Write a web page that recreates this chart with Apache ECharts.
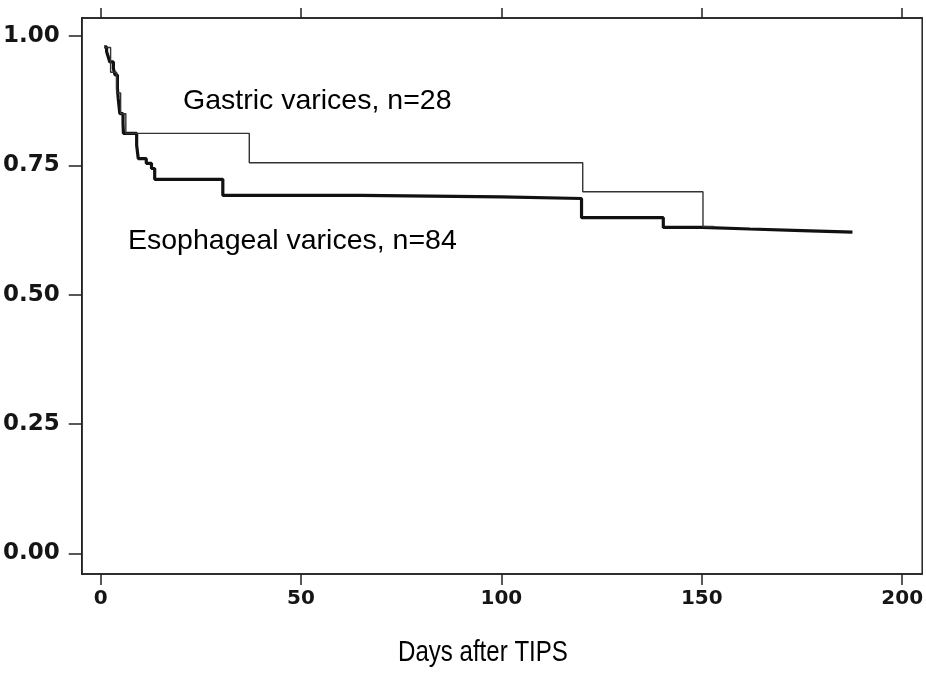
<!DOCTYPE html>
<html>
<head>
<meta charset="utf-8">
<script src="https://cdn.jsdelivr.net/npm/echarts@6/dist/echarts.min.js"></script>
<style>
  html, body { margin: 0; padding: 0; background: #fff; }
  #chart { width: 926px; height: 683px; }
</style>
</head>
<body>
<div id="chart"></div>
<script>
// Kaplan-Meier style curves
const X_TICKS = [0, 50, 100, 150, 200];
const Y_TICKS = [0, 0.25, 0.5, 0.75, 1];

const GASTRIC_DAYS = [1, 2.5, 4, 5, 6.3, 37.1, 120.3, 150.3, 153];
const GASTRIC_SURV = [0.978, 0.93, 0.89, 0.85, 0.812, 0.755, 0.699, 0.632, 0.632];

const ESOPH_DAYS = [0.9, 1.5, 1.9, 2.3, 3.2, 3.6, 4.2, 4.4, 4.8, 5.6, 5.7, 9.0, 9.4, 11.4, 12.7, 13.5, 30.5, 65, 100, 120, 140.4, 150, 162, 175, 187.6];
const ESOPH_SURV = [0.979, 0.97, 0.96, 0.95, 0.937, 0.925, 0.899, 0.879, 0.85, 0.831, 0.812, 0.789, 0.763, 0.754, 0.744, 0.723, 0.692, 0.689, 0.686, 0.649, 0.63, 0.627, 0.624, 0.621, 0.62];

const GASTRIC_LABEL = 'Gastric varices, n=28';
const ESOPH_LABEL = 'Esophageal varices, n=84';
const X_TITLE = 'Days after TIPS';

const toPairs = (xs, ys) => xs.map((x, i) => [x, ys[i]]);

const chart = echarts.init(document.getElementById('chart'));

const tickFont = {
  fontFamily: 'DejaVu Sans',
  fontWeight: 'bold',
  color: '#151515',
};
const frameLine = { color: '#222', width: 1.5 };

chart.setOption({
  animation: false,
  backgroundColor: '#fff',
  grid: {
    left: 80,
    right: 3,
    top: 18,
    bottom: 109,
    show: true,
    borderColor: '#222',
    borderWidth: 1.5,
  },
  xAxis: [
    {
      type: 'value',
      min: -4.7,
      max: 205,
      position: 'bottom',
      splitLine: { show: false },
      axisLine: { show: true, onZero: false, lineStyle: frameLine },
      axisTick: { show: true, length: 11, customValues: X_TICKS, lineStyle: frameLine },
      axisLabel: { show: true, margin: 15, fontSize: 20, customValues: X_TICKS, ...tickFont },
    },
    {
      type: 'value',
      min: -4.7,
      max: 205,
      position: 'top',
      splitLine: { show: false },
      axisLine: { show: true, onZero: false, lineStyle: frameLine },
      axisTick: { show: true, length: 10, customValues: X_TICKS, lineStyle: frameLine },
      axisLabel: { show: false },
    },
  ],
  yAxis: {
    type: 'value',
    min: -0.04,
    max: 1.035,
    splitLine: { show: false },
    axisLine: { show: true, onZero: false, lineStyle: frameLine },
    axisTick: { show: true, length: 13, customValues: Y_TICKS, lineStyle: frameLine },
    axisLabel: {
      show: true,
      margin: 22,
      fontSize: 23,
      customValues: Y_TICKS,
      formatter: (v) => v.toFixed(2),
      ...tickFont,
    },
  },
  series: [
    {
      name: GASTRIC_LABEL,
      type: 'line',
      step: 'end',
      showSymbol: false,
      data: toPairs(GASTRIC_DAYS, GASTRIC_SURV),
      lineStyle: { color: '#333', width: 1.4 },
      z: 3,
    },
    {
      name: ESOPH_LABEL,
      type: 'line',
      step: 'end',
      showSymbol: false,
      data: toPairs(ESOPH_DAYS, ESOPH_SURV),
      lineStyle: { color: '#111', width: 3.2 },
      z: 2,
    },
  ],
  graphic: [
    {
      type: 'text',
      x: 183,
      y: 87,
      style: { text: GASTRIC_LABEL, font: '28.5px "Liberation Sans", Arial, sans-serif', fill: '#000' },
    },
    {
      type: 'text',
      x: 128,
      y: 227,
      style: { text: ESOPH_LABEL, font: '28.5px "Liberation Sans", Arial, sans-serif', fill: '#000' },
    },
    {
      type: 'text',
      x: 398,
      y: 638,
      scaleX: 0.83,
      style: { text: X_TITLE, font: '29px "Liberation Sans", Arial, sans-serif', fill: '#000' },
    },
  ],
});
</script>
</body>
</html>
